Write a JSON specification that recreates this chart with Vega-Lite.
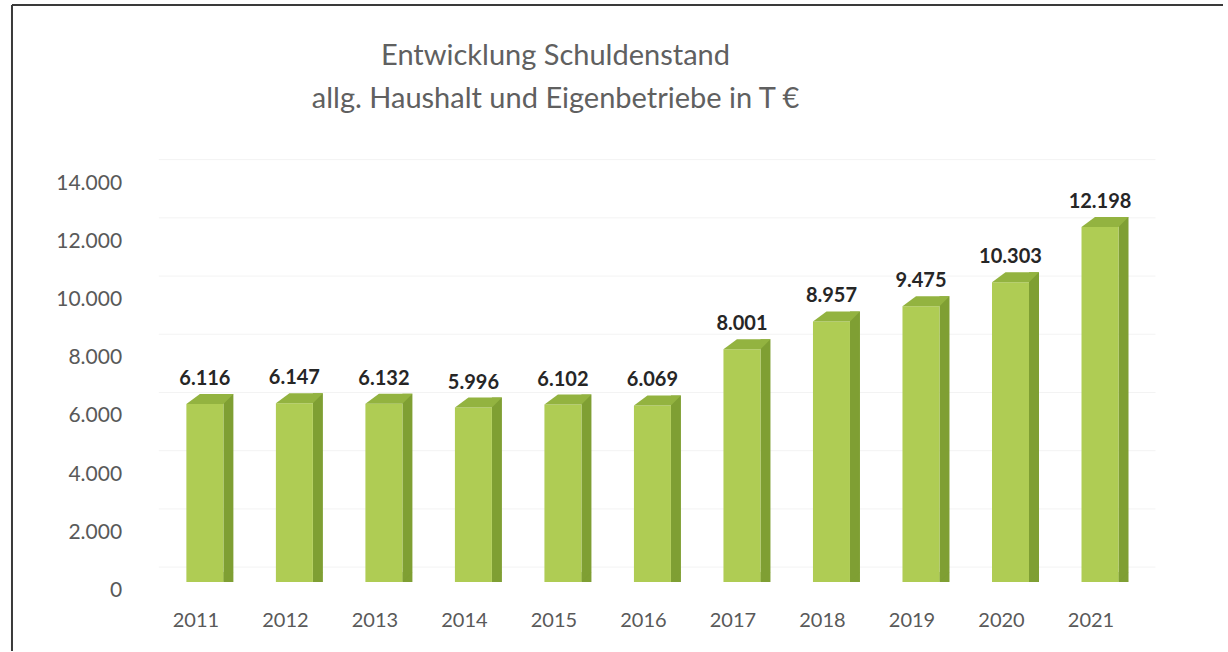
{
  "$schema": "https://vega.github.io/schema/vega-lite/v6.json",
  "width": 1228,
  "height": 652,
  "padding": 0,
  "autosize": {"type": "fit", "contains": "padding"},
  "background": "white",
  "config": {
    "view": {"stroke": null},
    "font": "Lato",
    "locale": {"number": {"decimal": ",", "thousands": ".", "grouping": [3], "currency": ["", " €"]}}
  },
  "datasets": {
    "bars": [
      {"year": 2011, "value": 6116},
      {"year": 2012, "value": 6147},
      {"year": 2013, "value": 6132},
      {"year": 2014, "value": 5996},
      {"year": 2015, "value": 6102},
      {"year": 2016, "value": 6069},
      {"year": 2017, "value": 8001},
      {"year": 2018, "value": 8957},
      {"year": 2019, "value": 9475},
      {"year": 2020, "value": 10303},
      {"year": 2021, "value": 12198}
    ],
    "ticks": [
      {"tick": 0}, {"tick": 2000}, {"tick": 4000}, {"tick": 6000},
      {"tick": 8000}, {"tick": 10000}, {"tick": 12000}, {"tick": 14000}
    ],
    "single": [{"title": "Entwicklung Schuldenstand"}]
  },
  "layer": [
    {
      "data": {"name": "single"},
      "mark": {"type": "rule", "stroke": "#3a3a3a", "strokeWidth": 2},
      "encoding": {
        "x": {"datum": 2008.845, "scale": {"type": "linear", "domain": [2008.767, 2022.374], "nice": false, "zero": false}, "axis": null},
        "y": {"datum": 19828, "scale": {"type": "linear", "domain": [-2367, 20000], "nice": false, "zero": false}, "axis": null},
        "y2": {"datum": -2367}
      }
    },
    {
      "data": {"name": "single"},
      "mark": {"type": "rule", "stroke": "#3a3a3a", "strokeWidth": 2},
      "encoding": {
        "x": {"datum": 2008.845, "axis": null},
        "x2": {"datum": 2022.374},
        "y": {"datum": 19828, "axis": null}
      }
    },
    {
      "data": {"name": "ticks"},
      "mark": {"type": "rule", "stroke": "#f3f3f3", "strokeWidth": 1, "yOffset": -15},
      "encoding": {
        "x": {"datum": 2010.485, "axis": null},
        "x2": {"datum": 2021.62},
        "y": {"field": "tick", "type": "quantitative", "axis": null}
      }
    },
    {
      "data": {"name": "ticks"},
      "mark": {"type": "text", "align": "right", "baseline": "middle", "fontSize": 21, "color": "#595959", "yOffset": 9},
      "encoding": {
        "x": {"datum": 2010.075, "axis": null},
        "y": {"field": "tick", "type": "quantitative", "axis": null},
        "text": {"field": "tick", "type": "quantitative", "format": ",d"}
      }
    },
    {
      "data": {"name": "bars"},
      "mark": {"type": "bar", "size": 10, "color": "#7f9f33", "xOffset": 23.5, "yOffset": -10},
      "encoding": {
        "x": {"field": "year", "type": "quantitative", "axis": null},
        "y": {"field": "value", "type": "quantitative", "axis": null},
        "y2": {"datum": 0}
      }
    },
    {
      "data": {"name": "bars"},
      "mark": {"type": "point", "filled": true, "opacity": 1, "size": 100, "strokeWidth": 0, "color": "#7f9f33", "shape": "M-1,-1L1,-1L-1,1Z", "xOffset": 23.5, "yOffset": -5},
      "encoding": {
        "x": {"field": "year", "type": "quantitative", "axis": null},
        "y": {"datum": 0, "axis": null}
      }
    },
    {
      "data": {"name": "bars"},
      "mark": {"type": "bar", "size": 37, "color": "#afcc54"},
      "encoding": {
        "x": {"field": "year", "type": "quantitative", "axis": null},
        "y": {"field": "value", "type": "quantitative", "axis": null},
        "y2": {"datum": 0}
      }
    },
    {
      "data": {"name": "bars"},
      "mark": {"type": "point", "filled": true, "opacity": 1, "size": 2209, "strokeWidth": 0, "color": "#93b340", "shape": "M-1,0.2128L0.5745,0.2128L1,-0.2128L-0.4255,-0.2128Z", "xOffset": 5, "yOffset": -5},
      "encoding": {
        "x": {"field": "year", "type": "quantitative", "axis": null},
        "y": {"field": "value", "type": "quantitative", "axis": null}
      }
    },
    {
      "data": {"name": "bars"},
      "mark": {"type": "text", "align": "center", "baseline": "middle", "fontSize": 20, "fontWeight": "bold", "color": "#262626", "yOffset": -25},
      "encoding": {
        "x": {"field": "year", "type": "quantitative", "axis": null},
        "y": {"field": "value", "type": "quantitative", "axis": null},
        "text": {"field": "value", "type": "quantitative", "format": ",d"}
      }
    },
    {
      "data": {"name": "bars"},
      "mark": {"type": "text", "align": "center", "baseline": "middle", "fontSize": 20, "color": "#595959", "xOffset": -9, "yOffset": 39},
      "encoding": {
        "x": {"field": "year", "type": "quantitative", "axis": null},
        "y": {"datum": 0, "axis": null},
        "text": {"field": "year", "type": "quantitative", "format": "d"}
      }
    },
    {
      "data": {"name": "single"},
      "mark": {"type": "text", "align": "center", "baseline": "middle", "fontSize": 29, "color": "#606060", "lineHeight": 43, "text": ["Entwicklung Schuldenstand", "allg. Haushalt und Eigenbetriebe in T €"]},
      "encoding": {
        "x": {"datum": 2014.917, "axis": null},
        "y": {"datum": 18079, "axis": null}
      }
    }
  ]
}
